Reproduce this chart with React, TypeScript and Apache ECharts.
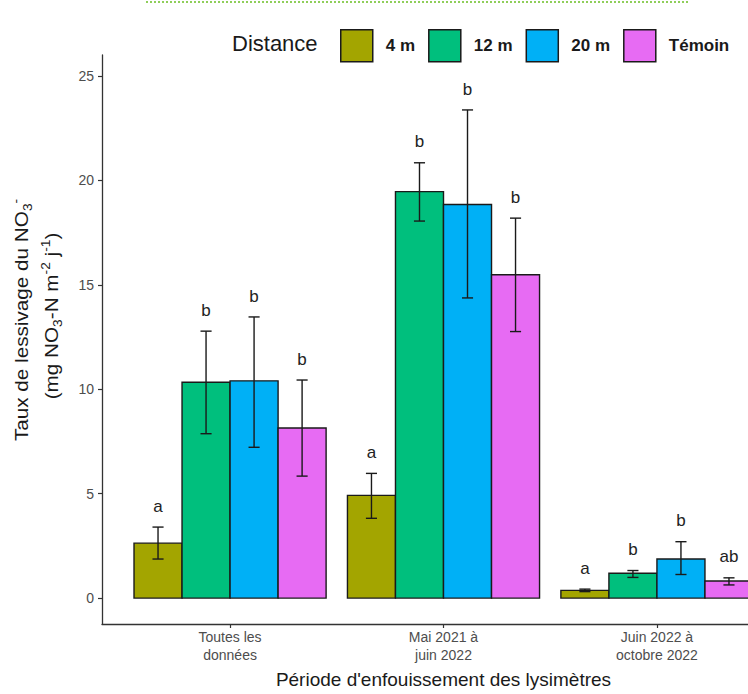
import React, { useEffect, useRef } from "react";
import * as echarts from "echarts";

// Periods on the x axis (positions 1, 2, 3 on a numeric scale)
const categories = ["Toutes les\ndonnées", "Mai 2021 à\njuin 2022", "Juin 2022 à\noctobre 2022"];
const distances = ["4 m", "12 m", "20 m", "Témoin"];
const colors = ["#A3A500", "#00BF7D", "#00B0F6", "#E76BF3"];

// Mean leaching rate per distance, one value per period
const mean4m = [2.63, 4.92, 0.37];
const mean12m = [10.33, 19.46, 1.19];
const mean20m = [10.4, 18.84, 1.87];
const meanTemoin = [8.14, 15.48, 0.82];

// Error bar bounds
const low4m = [1.87, 3.82, 0.31];
const low12m = [7.87, 18.05, 0.99];
const low20m = [7.22, 14.37, 1.13];
const lowTemoin = [5.84, 12.76, 0.63];

const high4m = [3.4, 5.97, 0.43];
const high12m = [12.78, 20.84, 1.32];
const high20m = [13.46, 23.37, 2.7];
const highTemoin = [10.44, 18.19, 0.97];

// Significance letters
const letters4m = ["a", "a", "a"];
const letters12m = ["b", "b", "b"];
const letters20m = ["b", "b", "b"];
const lettersTemoin = ["b", "b", "ab"];

const yTicks = [0, 5, 10, 15, 20, 25];

const means = [mean4m, mean12m, mean20m, meanTemoin];
const lows = [low4m, low12m, low20m, lowTemoin];
const highs = [high4m, high12m, high20m, highTemoin];
const letters = [letters4m, letters12m, letters20m, lettersTemoin];

const FONT = "'Liberation Sans', Arial, sans-serif";
const DODGE = 0.9;
const BAR_W = DODGE / distances.length;
const CAP = 0.026;
const LETTER_GAP = 1.0;
const INK = "#1a1a1a";

export default function App() {
  const ref = useRef<HTMLDivElement>(null);

  useEffect(() => {
    if (!ref.current) return;
    const chart = echarts.init(ref.current, null, { renderer: "svg" });

    const series = distances.map((name, k) => {
      const offset = (k - (distances.length - 1) / 2) * BAR_W;
      return {
        name,
        type: "custom",
        clip: true,
        itemStyle: { color: colors[k], borderColor: INK, borderWidth: 1.3 },
        encode: { x: 0, y: 1 },
        data: categories.map((_, i) => [i + 1, means[k][i], lows[k][i], highs[k][i]]),
        renderItem: (params: any, api: any) => {
          const cx = api.value(0) + offset;
          const m = api.value(1);
          const lo = api.value(2);
          const hi = api.value(3);
          const base = api.coord([cx - BAR_W / 2, 0]);
          const top = api.coord([cx + BAR_W / 2, m]);
          const hiP = api.coord([cx, hi]);
          const loP = api.coord([cx, lo]);
          const capL = api.coord([cx - CAP, hi]);
          const capR = api.coord([cx + CAP, hi]);
          const lab = api.coord([cx, hi + LETTER_GAP]);
          const lineStyle = { stroke: INK, lineWidth: 1.4 };
          return {
            type: "group",
            children: [
              {
                type: "rect",
                shape: { x: base[0], y: top[1], width: top[0] - base[0], height: base[1] - top[1] },
                style: { fill: colors[k], stroke: INK, lineWidth: 1.4 },
              },
              { type: "line", shape: { x1: hiP[0], y1: hiP[1], x2: loP[0], y2: loP[1] }, style: lineStyle },
              { type: "line", shape: { x1: capL[0], y1: hiP[1], x2: capR[0], y2: hiP[1] }, style: lineStyle },
              { type: "line", shape: { x1: capL[0], y1: loP[1], x2: capR[0], y2: loP[1] }, style: lineStyle },
              {
                type: "text",
                x: lab[0],
                y: lab[1],
                style: {
                  text: letters[k][params.dataIndex],
                  fill: "#222",
                  font: `17px ${FONT}`,
                  align: "center",
                  verticalAlign: "middle",
                },
              },
            ],
          };
        },
      };
    });

    chart.setOption({
      animation: false,
      backgroundColor: "#ffffff",
      textStyle: { fontFamily: FONT },
      grid: { left: 102, top: 55, width: 683, height: 576 },
      legend: {
        data: distances,
        left: 335,
        top: 24,
        icon: "rect",
        itemWidth: 32,
        itemHeight: 32,
        itemGap: 13,
        itemStyle: { borderColor: INK, borderWidth: 1.5 },
        textStyle: { fontSize: 17, fontWeight: "bold", color: "#1a1a1a", fontFamily: FONT, padding: [0, 0, 0, 8] },
      },
      xAxis: {
        type: "value",
        min: 0.4,
        max: 3.6,
        splitLine: { show: false },
        axisLine: { onZero: false, lineStyle: { color: "#333", width: 1.3 } },
        axisTick: { customValues: [1, 2, 3], length: 4, lineStyle: { color: "#333", width: 1.2 } },
        axisLabel: {
          customValues: [1, 2, 3],
          formatter: (v: number) => categories[Math.round(v) - 1] ?? "",
          color: "#4d4d4d",
          fontSize: 14,
          lineHeight: 18,
          margin: 4,
          fontFamily: FONT,
        },
        name: "Période d'enfouissement des lysimètres",
        nameLocation: "middle",
        nameGap: 46,
        nameTextStyle: { fontSize: 19, color: "#1a1a1a", fontFamily: FONT },
      },
      yAxis: {
        type: "value",
        min: -1.24,
        max: 26,
        splitLine: { show: false },
        axisLine: { show: true, onZero: false, lineStyle: { color: "#333", width: 1.3 } },
        axisTick: { show: true, customValues: yTicks, length: 4, lineStyle: { color: "#333", width: 1.2 } },
        axisLabel: { customValues: yTicks, color: "#4d4d4d", fontSize: 14, margin: 8, fontFamily: FONT },
      },
      graphic: [
        {
          type: "line",
          shape: { x1: 146, y1: 2, x2: 690, y2: 2 },
          style: { stroke: "#8fce5a", lineWidth: 2, lineDash: [2, 2] },
        },
        {
          type: "text",
          left: 232,
          top: 32,
          style: { text: "Distance", font: `22px ${FONT}`, fill: "#1a1a1a" },
        },
        {
          type: "text",
          x: 22,
          y: 320,
          rotation: Math.PI / 2,
          scaleX: 1.15,
          style: {
            text: "Taux de lessivage du NO{sub|3}{sup|-}",
            font: `18px ${FONT}`,
            fill: "#1a1a1a",
            align: "center",
            verticalAlign: "middle",
            rich: {
              sub: { fontSize: 12, padding: [12, 0, 0, 0], fill: "#1a1a1a" },
              sup: { fontSize: 12, padding: [0, 0, 12, 0], fill: "#1a1a1a" },
            },
          },
        },
        {
          type: "text",
          x: 52,
          y: 316,
          rotation: Math.PI / 2,
          scaleX: 1.15,
          style: {
            text: "(mg NO{sub|3}-N m{sup|-2} j{sup|-1})",
            font: `18px ${FONT}`,
            fill: "#1a1a1a",
            align: "center",
            verticalAlign: "middle",
            rich: {
              sub: { fontSize: 12, padding: [12, 0, 0, 0], fill: "#1a1a1a" },
              sup: { fontSize: 12, padding: [0, 0, 12, 0], fill: "#1a1a1a" },
            },
          },
        },
      ],
      series,
    });

    return () => chart.dispose();
  }, []);

  // The plot panel runs past the right edge of the visible frame, so the chart
  // canvas is wider than its clipping wrapper.
  return (
    <div
      style={{
        position: "fixed",
        left: 0,
        top: 0,
        width: 748,
        height: 694,
        overflow: "hidden",
        background: "#fff",
      }}
    >
      <div ref={ref} style={{ width: 800, height: 694 }} />
    </div>
  );
}
